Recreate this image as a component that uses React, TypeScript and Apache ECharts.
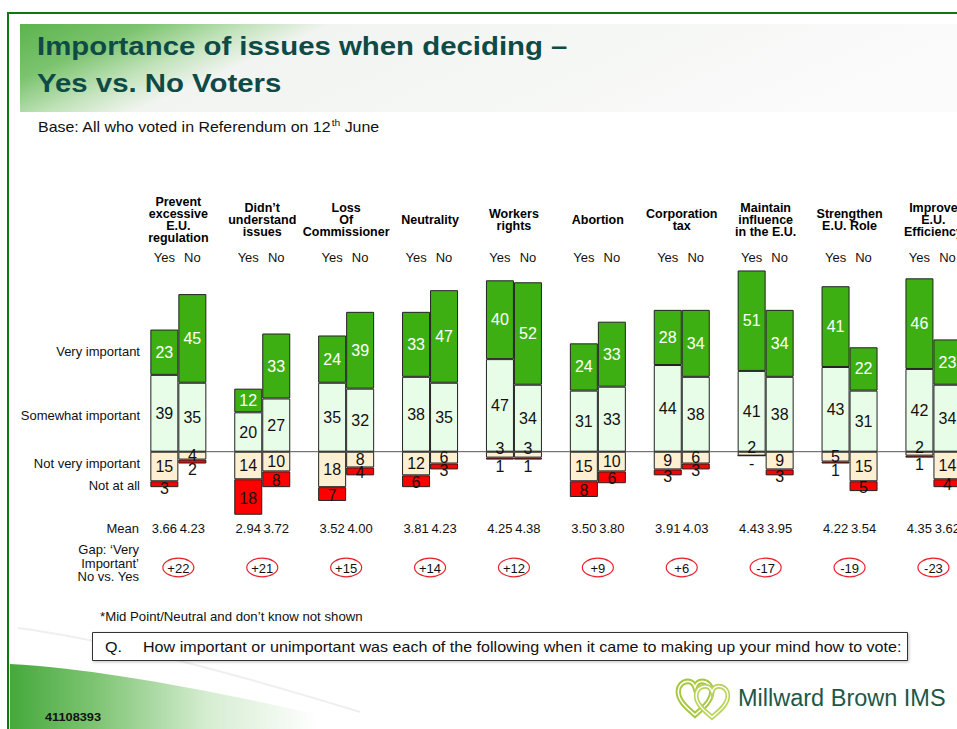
import React, { useEffect, useRef } from "react";
import * as echarts from "echarts";

// ---------------- DATA ----------------
const categories = [
  "Prevent\nexcessive\nE.U.\nregulation",
  "Didn’t\nunderstand\nissues",
  "Loss\nOf\nCommissioner",
  "Neutrality",
  "Workers\nrights",
  "Abortion",
  "Corporation\ntax",
  "Maintain\ninfluence\nin the E.U.",
  "Strengthen\nE.U. Role",
  "Improve\nE.U.\nEfficiency",
];
const voterGroups = ["Yes", "No"];

const yesVery = [23, 12, 24, 33, 40, 24, 28, 51, 41, 46];
const yesSomewhat = [39, 20, 35, 38, 47, 31, 44, 41, 43, 42];
const yesNotVery = [15, 14, 18, 12, 3, 15, 9, 2, 5, 2];
const yesNotAtAll = [3, 18, 7, 6, 1, 8, 3, 0, 1, 1];

const noVery = [45, 33, 39, 47, 52, 33, 34, 34, 22, 23];
const noSomewhat = [35, 27, 32, 35, 34, 33, 38, 38, 31, 34];
const noNotVery = [4, 10, 8, 6, 3, 10, 6, 9, 15, 14];
const noNotAtAll = [2, 8, 4, 3, 1, 6, 3, 3, 5, 4];

const yesMean = ["3.66", "2.94", "3.52", "3.81", "4.25", "3.50", "3.91", "4.43", "4.22", "4.35"];
const noMean = ["4.23", "3.72", "4.00", "4.23", "4.38", "3.80", "4.03", "3.95", "3.54", "3.62"];
const gapValues = ["+22", "+21", "+15", "+14", "+12", "+9", "+6", "-17", "-19", "-23"];

const rowLabels = ["Very important", "Somewhat important", "Not very important", "Not at all"];

// ---------------- STYLE ----------------
const FONT = "'Liberation Sans', Arial, Helvetica, sans-serif";
const BAR_W = 28;
const C_VERY = "#3eaf12";
const C_SOME = "#e8fde8";
const C_NOTV = "#fdf0d2";
const C_NONE = "#ff0000";
const TITLE_C = "#0e4b47";

const HEART_D =
  "M50 90 C32 74 6 56 6 32 C6 16 18 6 31 6 C40 6 47 12 50 21 C53 12 60 6 69 6 C82 6 94 16 94 32 C94 56 68 74 50 90 Z";
const SWOOSH_D = "M 10 664 C 120 670 270 702 450 745 L 10 745 Z";

echarts.graphic.registerShape("mbHeart", echarts.graphic.extendPath(HEART_D, {}) as any);
echarts.graphic.registerShape("mbSwoosh", echarts.graphic.extendPath(SWOOSH_D, {}) as any);

type Kind = "very" | "some" | "notv" | "none";

function labelOffset(kind: Kind, v: number): number {
  if (kind === "notv") return v <= 3 ? -6 : 0;
  if (kind === "none") {
    if (v <= 2) return 8;
    if (v === 3) return 4;
    return 1;
  }
  return 0;
}

function barSeries(stack: string, kind: Kind, values: number[]) {
  const color = { very: C_VERY, some: C_SOME, notv: C_NOTV, none: C_NONE }[kind];
  const sign = kind === "notv" || kind === "none" ? -1 : 1;
  return {
    type: "bar",
    name: stack + "-" + kind,
    stack,
    barWidth: BAR_W,
    barGap: "0%",
    z: 3,
    itemStyle: { color, borderColor: "#222", borderWidth: 1 },
    label: {
      show: true,
      position: "inside",
      fontSize: 16,
      fontFamily: FONT,
      color: kind === "very" ? "#ffffff" : "#111111",
      formatter: (p: any) => {
        const v = Math.abs(Number(p.value));
        return v === 0 ? "-" : String(v);
      },
    },
    data: values.map((v) => ({ value: sign * v, label: { offset: [0, labelOffset(kind, v)] } })),
  };
}

function stretchedText(text: string, x: number, y: number, scaleX: number, style: any) {
  return {
    type: "text",
    x,
    y,
    scaleX,
    style: { text, x: 0, y: 0, verticalAlign: "middle", fontFamily: FONT, fill: "#111", ...style },
  };
}

function buildOption(): any {
  const annotate = {
    type: "custom",
    clip: false,
    silent: true,
    z: 1,
    data: categories.map((_, i) => [i, 0]),
    encode: { x: 0, y: 1 },
    renderItem: (params: any, api: any) => {
      const i = params.dataIndex;
      const pt = api.coord([i, 0]);
      const cx = pt[0];
      const y0 = pt[1];
      const catW = api.size([1, 0])[0];
      const children: any[] = [];
      if (i === 0) {
        children.push({
          type: "line",
          shape: { x1: cx - BAR_W, y1: y0, x2: cx + catW * categories.length, y2: y0 },
          style: { stroke: "#555", lineWidth: 1 },
        });
      }
      children.push({
        type: "text",
        style: {
          text: categories[i],
          x: cx,
          y: 220,
          align: "center",
          verticalAlign: "middle",
          fontSize: 12.5,
          fontWeight: "bold",
          fontFamily: FONT,
          lineHeight: 12,
          fill: "#000",
        },
      });
      voterGroups.forEach((g, k) => {
        const bx = cx + (k === 0 ? -BAR_W / 2 : BAR_W / 2);
        children.push({
          type: "text",
          style: { text: g, x: bx, y: 257, align: "center", verticalAlign: "middle", fontSize: 13, fontFamily: FONT, fill: "#111" },
        });
        children.push({
          type: "text",
          style: {
            text: k === 0 ? yesMean[i] : noMean[i],
            x: bx,
            y: 528,
            align: "center",
            verticalAlign: "middle",
            fontSize: 13,
            fontFamily: FONT,
            fill: "#111",
          },
        });
      });
      children.push({
        type: "ellipse",
        shape: { cx, cy: 567.5, rx: 15.5, ry: 9.3 },
        style: { fill: "none", stroke: "#e8232b", lineWidth: 1.2 },
      });
      children.push({
        type: "text",
        style: { text: gapValues[i], x: cx, y: 568, align: "center", verticalAlign: "middle", fontSize: 13, fontFamily: FONT, fill: "#111" },
      });
      return { type: "group", children };
    },
  };

  const rowY = [351, 415, 463, 485];
  const graphics: any[] = [
    // title band
    {
      type: "rect",
      z: -10,
      shape: { x: 20, y: 24, width: 1000, height: 88 },
      style: {
        fill: {
          type: "linear",
          x: 0, y: 0, x2: 1, y2: 0.2,
          colorStops: [
            { offset: 0, color: "#5cb44d" },
            { offset: 0.12, color: "#7bc36e" },
            { offset: 0.22, color: "#c2e3bb" },
            { offset: 0.3, color: "#f1f4f0" },
            { offset: 1, color: "#fbfbfb" },
          ],
        },
      },
    },
    // bottom-left swoosh
    {
      type: "mbSwoosh",
      z: -10,
      x: 0,
      y: 0,
      style: {
        fill: {
          type: "linear",
          x: 0, y: 0, x2: 1, y2: 0,
          colorStops: [
            { offset: 0, color: "#45a93b" },
            { offset: 0.2, color: "#80c575" },
            { offset: 0.45, color: "#d6edd2" },
            { offset: 0.7, color: "#ffffff" },
          ],
        },
      },
    },
    {
      type: "bezierCurve",
      z: -9,
      shape: { x1: 18, y1: 628, cpx1: 110, cpy1: 640, cpx2: 230, cpy2: 672, x2: 360, y2: 712 },
      style: { stroke: "#efefef", lineWidth: 2, fill: "none" },
    },
    // title
    stretchedText("Importance of issues when deciding –", 37, 46, 1.13, { fontSize: 26, fontWeight: "bold", fill: TITLE_C }),
    stretchedText("Yes vs. No Voters", 37, 83, 1.13, { fontSize: 26, fontWeight: "bold", fill: TITLE_C }),
    stretchedText("Base: All who voted in Referendum on 12{sup|th} June", 38, 127, 1.14, {
      fontSize: 14,
      rich: { sup: { fontSize: 9, fontFamily: FONT, fill: "#111", padding: [0, 0, 8, 0] } },
    }),
    // row labels
    ...rowLabels.map((t, k) => ({
      type: "text",
      style: { text: t, x: 140, y: rowY[k], align: "right", verticalAlign: "middle", fontSize: 13, fontFamily: FONT, fill: "#111" },
    })),
    {
      type: "text",
      style: { text: "Mean", x: 139, y: 528, align: "right", verticalAlign: "middle", fontSize: 13, fontFamily: FONT, fill: "#111" },
    },
    {
      type: "text",
      style: {
        text: "Gap: ‘Very\nImportant’\nNo vs. Yes",
        x: 139,
        y: 563,
        align: "right",
        verticalAlign: "middle",
        lineHeight: 13.5,
        fontSize: 13,
        fontFamily: FONT,
        fill: "#111",
      },
    },
    stretchedText("*Mid Point/Neutral and don’t know not shown", 100, 617, 1.1, { fontSize: 12 }),
    // question box
    {
      type: "rect",
      shape: { x: 92.5, y: 632.5, width: 815, height: 28 },
      style: { fill: "#fff", stroke: "#333", lineWidth: 1, shadowBlur: 3, shadowColor: "rgba(0,0,0,0.25)", shadowOffsetX: 1, shadowOffsetY: 1 },
    },
    stretchedText("Q.", 105, 647, 1.15, { fontSize: 14 }),
    stretchedText(
      "How important or unimportant was each of the following when it came to making up your mind how to vote:",
      143,
      647,
      1.15,
      { fontSize: 14 }
    ),
    stretchedText("41108393", 45, 717, 1.16, { fontSize: 11, fontWeight: "bold" }),
    // logo
    { type: "mbHeart", x: 676, y: 679, scaleX: 0.38, scaleY: 0.4, style: { fill: "none", stroke: "#a7c73b", lineWidth: 14 } },
    { type: "mbHeart", x: 676, y: 679, scaleX: 0.38, scaleY: 0.4, style: { fill: "none", stroke: "#ffffff", lineWidth: 4 } },
    { type: "mbHeart", x: 694, y: 684, scaleX: 0.36, scaleY: 0.37, style: { fill: "none", stroke: "#b9d35a", lineWidth: 13 } },
    { type: "mbHeart", x: 694, y: 684, scaleX: 0.36, scaleY: 0.37, style: { fill: "none", stroke: "#ffffff", lineWidth: 4 } },
    {
      type: "text",
      style: { text: "Millward Brown IMS", x: 738, y: 698, verticalAlign: "middle", fontSize: 23.5, fontFamily: FONT, fill: "#1d5847" },
    },
    // frame
    {
      type: "rect",
      z: 50,
      shape: { x: 8, y: 13, width: 1100, height: 800 },
      style: { fill: "none", stroke: "#0b7a0b", lineWidth: 2 },
    },
  ];

  return {
    animation: false,
    backgroundColor: "#ffffff",
    grid: { left: 136.4, top: 254.7, width: 839, height: 275.8, containLabel: false },
    xAxis: {
      type: "category",
      data: categories,
      show: false,
      axisTick: { show: false },
    },
    yAxis: { type: "value", min: -40, max: 100, show: false, splitLine: { show: false } },
    graphic: { elements: graphics },
    series: [
      annotate,
      barSeries("yes", "some", yesSomewhat),
      barSeries("yes", "very", yesVery),
      barSeries("yes", "notv", yesNotVery),
      barSeries("yes", "none", yesNotAtAll),
      barSeries("no", "some", noSomewhat),
      barSeries("no", "very", noVery),
      barSeries("no", "notv", noNotVery),
      barSeries("no", "none", noNotAtAll),
    ],
  };
}

export default function App() {
  const ref = useRef<HTMLDivElement>(null);
  useEffect(() => {
    if (!ref.current) return;
    const chart = echarts.init(ref.current, null, { renderer: "svg" });
    chart.setOption(buildOption());
    return () => chart.dispose();
  }, []);
  return (
    <div style={{ position: "absolute", left: 0, top: 0, width: 957, height: 729, overflow: "hidden", background: "#fff" }}>
      <div ref={ref} style={{ width: 1010, height: 729 }} />
    </div>
  );
}
